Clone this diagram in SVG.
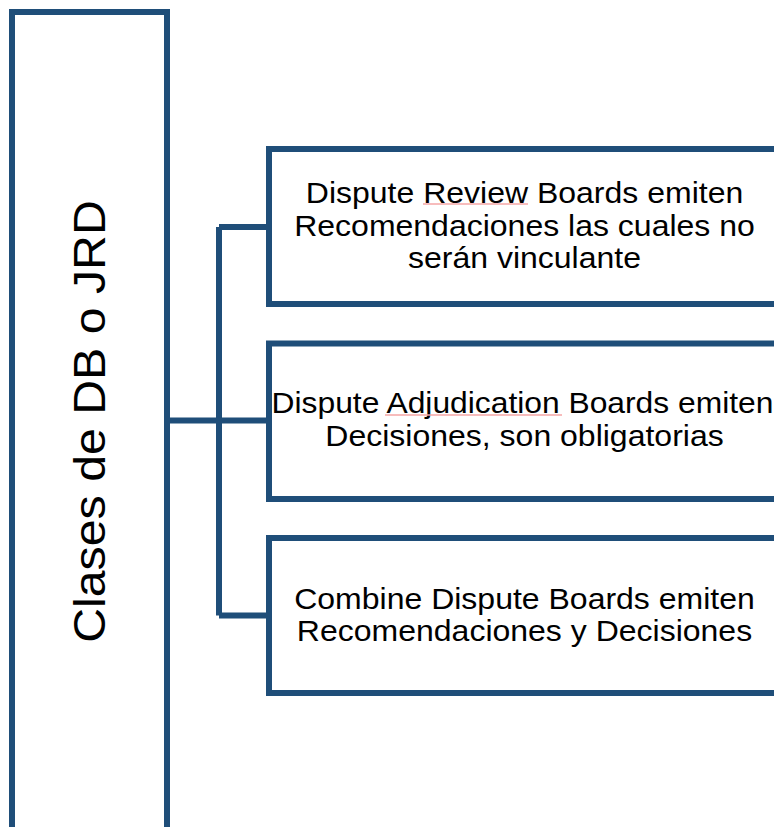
<svg xmlns="http://www.w3.org/2000/svg" width="774" height="827" viewBox="0 0 774 827">
  <style>
    .box { fill: #FFFFFF; stroke: #1F4E79; stroke-width: 6; }
    .conn { fill: none; stroke: #1F4E79; stroke-width: 6; stroke-linejoin: miter; }
    .label { font-family: "Liberation Sans", Arial, sans-serif; font-size: 29.5px; fill: #000000; text-anchor: middle; }
    .title { font-family: "Liberation Sans", Arial, sans-serif; font-size: 45px; fill: #000000; text-anchor: middle; }
    .spell { stroke: #F4A6A6; stroke-width: 1.3; fill: none; }
  </style>
  <rect width="774" height="827" fill="#FFFFFF"/>

  <!-- connectors: trunk from the category box, vertical bus, branches -->
  <g id="connectors">
    <path class="conn" d="M167,420.5 H219"/>
    <path class="conn" d="M219,227 V615.5"/>
    <path class="conn" d="M219,227 H269"/>
    <path class="conn" d="M219,420.5 H269"/>
    <path class="conn" d="M219,615.5 H269"/>
  </g>

  <g id="node-clases">
    <rect class="box" x="12" y="12" width="155" height="840"/>
    <text class="title" transform="translate(104.5,421.5) rotate(-90) scale(1.073,1)">Clases de DB o JRD</text>
  </g>

  <g id="node-review">
    <rect class="box" x="269" y="149" width="540" height="155"/>
    <g transform="translate(524.5,0) scale(1.085,1)">
      <text class="label" x="0" y="203.5">Dispute Review Boards emiten</text>
      <text class="label" x="0" y="236.5">Recomendaciones las cuales no</text>
      <text class="label" x="0" y="268.5">serán vinculante</text>
    </g>
    <path class="spell" d="M423,204 H528"/>
  </g>

  <g id="node-adjudication">
    <rect class="box" x="269" y="343.5" width="540" height="155.5"/>
    <g transform="translate(522.5,0) scale(1.078,1)">
      <text class="label" x="0" y="413.5">Dispute Adjudication Boards emiten</text>
    </g>
    <g transform="translate(524.5,0) scale(1.085,1)">
      <text class="label" x="0" y="446.5">Decisiones, son obligatorias</text>
    </g>
    <path class="spell" d="M385,415 H562"/>
  </g>

  <g id="node-combine">
    <rect class="box" x="269" y="538" width="540" height="155"/>
    <g transform="translate(524.5,0) scale(1.085,1)">
      <text class="label" x="0" y="609">Combine Dispute Boards emiten</text>
      <text class="label" x="0" y="641">Recomendaciones y Decisiones</text>
    </g>
  </g>
</svg>
